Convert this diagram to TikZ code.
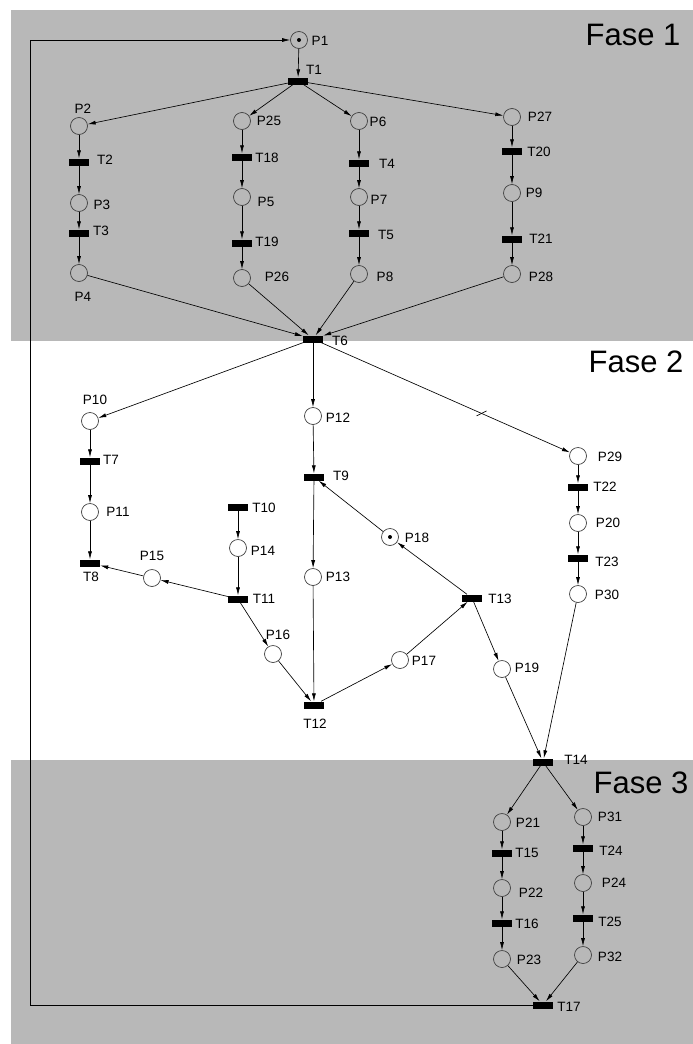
\documentclass[tikz,border=0pt]{standalone}
\usepackage{fontspec}
\setmainfont{Liberation Sans}
\usetikzlibrary{arrows.meta,calc}
\definecolor{bandgray}{RGB}{184,184,184}
\begin{document}
\begin{tikzpicture}[x=1pt,y=-1pt,
  place/.style={circle,draw=black!75,line width=0.7pt,minimum size=17pt,inner sep=0pt},
  trans/.style={rectangle,fill=black,minimum width=20pt,minimum height=7pt,inner sep=0pt},
  lbl/.style={font=\fontsize{13.5}{14}\selectfont,inner sep=0pt},
  fase/.style={font=\fontsize{31}{31}\selectfont,inner sep=0pt},
  arc/.style={-{Latex[length=8pt,width=4pt]},line width=0.65pt},
  plain/.style={line width=0.65pt},
  token/.style={circle,fill=black,minimum size=4pt,inner sep=0pt}
]
\useasboundingbox (0,0) rectangle (693,1044);
\fill[bandgray] (11,10) rectangle (693,341);
\fill[bandgray] (11,760) rectangle (693,1044);

% phase titles
\node[fase] (F1) at (633,35) {Fase 1};
\node[fase] (F2) at (636,362) {Fase 2};
\node[fase] (F3) at (641,783) {Fase 3};

% places and transitions
\node[place] (P1) at (299,40) {};
\node[token] (k1) at (P1) {};
\node[trans] (T1) at (298,81) {};

\node[place] (P2) at (79,126) {};
\node[trans] (T2) at (79,162) {};
\node[place] (P3) at (79,203) {};
\node[trans] (T3) at (79,233) {};
\node[place] (P4) at (79,273) {};

\node[place] (P25) at (242,121) {};
\node[trans] (T18) at (242,157) {};
\node[place] (P5) at (242,197) {};
\node[trans] (T19) at (242,243) {};
\node[place] (P26) at (242,278) {};

\node[place] (P6) at (359,121) {};
\node[trans] (T4) at (359,163) {};
\node[place] (P7) at (359,197) {};
\node[trans] (T5) at (359,233) {};
\node[place] (P8) at (359,274) {};

\node[place] (P27) at (512,117) {};
\node[trans] (T20) at (512,151) {};
\node[place] (P9) at (512,193) {};
\node[trans] (T21) at (512,239) {};
\node[place] (P28) at (512,274) {};

\node[trans] (T6) at (313,339) {};

\node[place] (P10) at (90,421) {};
\node[trans] (T7) at (90,461) {};
\node[place] (P11) at (90,512) {};
\node[trans] (T8) at (90,563) {};

\node[place] (P12) at (313,416) {};
\node[trans] (T9) at (314,477) {};
\node[place] (P13) at (313,577) {};
\node[trans] (T12) at (314,705) {};

\node[trans] (T10) at (238,507) {};
\node[place] (P14) at (238,548) {};
\node[trans] (T11) at (238,599) {};
\node[place] (P15) at (152,578) {};
\node[place] (P16) at (273,654) {};

\node[place] (P17) at (400,660) {};
\node[trans] (T13) at (472,598) {};
\node[place] (P18) at (390,537) {};
\node[token] (k18) at (P18) {};
\node[place] (P19) at (502,669) {};

\node[place] (P29) at (578,456) {};
\node[trans] (T22) at (578,487) {};
\node[place] (P20) at (578,523) {};
\node[trans] (T23) at (578,558) {};
\node[place] (P30) at (578,594) {};

\node[trans] (T14) at (543,762) {};

\node[place] (P21) at (502,822) {};
\node[trans] (T15) at (502,853) {};
\node[place] (P22) at (502,888) {};
\node[trans] (T16) at (502,923) {};
\node[place] (P23) at (502,959) {};

\node[place] (P31) at (583,817) {};
\node[trans] (T24) at (583,848) {};
\node[place] (P24) at (583,883) {};
\node[trans] (T25) at (583,918) {};
\node[place] (P32) at (583,955) {};

\node[trans] (T17) at (543,1005) {};

% labels
\node[lbl] (lP1) at (320,41) {P1};
\node[lbl] (lT1) at (314,70) {T1};
\node[lbl] (lP2) at (83,109) {P2};
\node[lbl] (lT2) at (105,160) {T2};
\node[lbl] (lP3) at (102,205) {P3};
\node[lbl] (lT3) at (101,231) {T3};
\node[lbl] (lP4) at (83,297) {P4};
\node[lbl] (lP25) at (269,121) {P25};
\node[lbl] (lT18) at (267,158) {T18};
\node[lbl] (lP5) at (266,202) {P5};
\node[lbl] (lT19) at (267,242) {T19};
\node[lbl] (lP26) at (277,277) {P26};
\node[lbl] (lP6) at (378,122) {P6};
\node[lbl] (lT4) at (387,164) {T4};
\node[lbl] (lP7) at (379,200) {P7};
\node[lbl] (lT5) at (386,235) {T5};
\node[lbl] (lP8) at (385,277) {P8};
\node[lbl] (lP27) at (540,117) {P27};
\node[lbl] (lT20) at (539,152) {T20};
\node[lbl] (lP9) at (534,193) {P9};
\node[lbl] (lT21) at (541,239) {T21};
\node[lbl] (lP28) at (541,277) {P28};
\node[lbl] (lT6) at (340,341) {T6};
\node[lbl] (lP10) at (95,400) {P10};
\node[lbl] (lT7) at (111,460) {T7};
\node[lbl] (lP11) at (118,512) {P11};
\node[lbl] (lT8) at (91,577) {T8};
\node[lbl] (lP15) at (152,556) {P15};
\node[lbl] (lT10) at (264,508) {T10};
\node[lbl] (lP14) at (263,551) {P14};
\node[lbl] (lT11) at (264,599) {T11};
\node[lbl] (lP16) at (278,635) {P16};
\node[lbl] (lT12) at (315,724) {T12};
\node[lbl] (lP12) at (338,418) {P12};
\node[lbl] (lT9) at (341,476) {T9};
\node[lbl] (lP13) at (338,577) {P13};
\node[lbl] (lP29) at (610,457) {P29};
\node[lbl] (lT22) at (605,487) {T22};
\node[lbl] (lP20) at (608,523) {P20};
\node[lbl] (lT23) at (607,562) {T23};
\node[lbl] (lP30) at (607,595) {P30};
\node[lbl] (lP18) at (417,538) {P18};
\node[lbl] (lT13) at (500,599) {T13};
\node[lbl] (lP17) at (424,661) {P17};
\node[lbl] (lP19) at (527,668) {P19};
\node[lbl] (lT14) at (576,760) {T14};
\node[lbl] (lP21) at (528,823) {P21};
\node[lbl] (lT15) at (527,853) {T15};
\node[lbl] (lP22) at (531,893) {P22};
\node[lbl] (lT16) at (527,924) {T16};
\node[lbl] (lP23) at (529,960) {P23};
\node[lbl] (lT17) at (569,1007) {T17};
\node[lbl] (lP31) at (610,817) {P31};
\node[lbl] (lT24) at (611,851) {T24};
\node[lbl] (lP24) at (614,883) {P24};
\node[lbl] (lT25) at (610,922) {T25};
\node[lbl] (lP32) at (610,957) {P32};

% arcs: phase 1
\draw[arc] (P1) -- (T1);
\draw[arc] (T1) -- (P2);
\draw[arc] (T1) -- (P25);
\draw[arc] (T1) -- (P6);
\draw[arc] (T1) -- (P27);
\draw[arc] (P2) -- (T2);
\draw[arc] (T2) -- (P3);
\draw[arc] (P3) -- (T3);
\draw[arc] (T3) -- (P4);
\draw[arc] (P25) -- (T18);
\draw[arc] (T18) -- (P5);
\draw[arc] (P5) -- (T19);
\draw[arc] (T19) -- (P26);
\draw[arc] (P6) -- (T4);
\draw[arc] (T4) -- (P7);
\draw[arc] (P7) -- (T5);
\draw[arc] (T5) -- (P8);
\draw[arc] (P27) -- (T20);
\draw[arc] (T20) -- (P9);
\draw[arc] (P9) -- (T21);
\draw[arc] (T21) -- (P28);
\draw[arc] (P4) -- (T6);
\draw[arc] (P26) -- (T6);
\draw[arc] (P8) -- (T6);
\draw[arc] (P28) -- (T6);

% phase 2
\draw[arc] (T6) -- (P10);
\draw[arc] (T6) -- (P12);
\draw[arc] (T6) -- (P29);
\draw[plain] ($(T6)!0.636!(P29)$) ++(-5,2.5) -- ++(10,-5);
\draw[arc] (P10) -- (T7);
\draw[arc] (T7) -- (P11);
\draw[arc] (P11) -- (T8);
\draw[arc] (P12) -- (T9);
\draw[arc] (T9) -- (P13);
\draw[arc] (P13) -- (T12);
\draw[arc] (T10) -- (P14);
\draw[arc] (P14) -- (T11);
\draw[arc] (T11) -- (P15);
\draw[arc] (P15) -- (T8);
\draw[arc] (T11) -- (P16);
\draw[arc] (P16) -- (T12);
\draw[arc] (T12) -- (P17);
\draw[arc] (P17) -- (T13);
\draw[arc] (T13) -- (P18);
\draw[arc] (P18) -- (T9);
\draw[arc] (T13) -- (P19);
\draw[arc] (P19) -- (T14);
\draw[arc] (P29) -- (T22);
\draw[arc] (T22) -- (P20);
\draw[arc] (P20) -- (T23);
\draw[arc] (T23) -- (P30);
\draw[arc] (P30) -- (T14);

% phase 3
\draw[arc] (T14) -- (P21);
\draw[arc] (T14) -- (P31);
\draw[arc] (P21) -- (T15);
\draw[arc] (T15) -- (P22);
\draw[arc] (P22) -- (T16);
\draw[arc] (T16) -- (P23);
\draw[arc] (P23) -- (T17);
\draw[arc] (P31) -- (T24);
\draw[arc] (T24) -- (P24);
\draw[arc] (P24) -- (T25);
\draw[arc] (T25) -- (P32);
\draw[arc] (P32) -- (T17);

% feedback loop
\coordinate (c1) at (30,1005);
\coordinate (c2) at (30,40);
\draw[arc] (T17) -- (c1) -- (c2) -- (P1);
\end{tikzpicture}
\end{document}
